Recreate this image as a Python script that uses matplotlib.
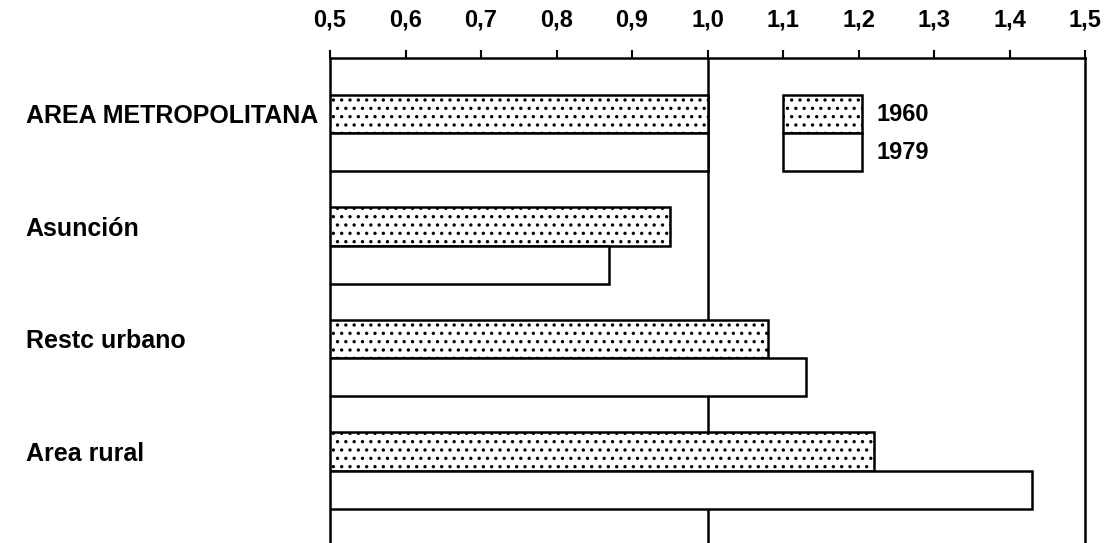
import numpy as np
import matplotlib
matplotlib.use("Agg")
import matplotlib.pyplot as plt
import matplotlib.patches as mpatches

plt.rcParams['font.family'] = ['Liberation Sans', 'DejaVu Sans']
plt.rcParams['hatch.linewidth'] = 1.2

# datos
categorias = ["AREA METROPOLITANA", "Asunción", "Restc urbano", "Area rural"]
valores_1960 = [1.0, 0.95, 1.08, 1.22]
valores_1979 = [1.0, 0.87, 1.13, 1.43]
anios = ["1960", "1979"]
ticks_x = [0.5, 0.6, 0.7, 0.8, 0.9, 1.0, 1.1, 1.2, 1.3, 1.4, 1.5]
etiquetas_x = ["0,5", "0,6", "0,7", "0,8", "0,9", "1,0", "1,1", "1,2", "1,3", "1,4", "1,5"]

base = 0.5
alto = 0.34
lw = 1.8

fig = plt.figure(figsize=(11.09, 5.43), dpi=100)
ax = fig.add_axes([330 / 1109, 0, 755 / 1109, (543 - 58) / 543])

y = np.arange(len(categorias))
largo_60 = np.array(valores_1960) - base
largo_79 = np.array(valores_1979) - base

ax.axvline(1.0, color="black", lw=lw, zorder=1)

ax.barh(y - alto / 2, largo_60, height=alto, left=base, color="white",
        edgecolor="black", hatch="..", linewidth=lw, zorder=3)
ax.barh(y + alto / 2, largo_79, height=alto, left=base, color="white",
        edgecolor="black", linewidth=lw, zorder=3)

ax.set_xlim(ticks_x[0], ticks_x[-1])
ax.set_ylim(3.644, -0.667)

ax.xaxis.tick_top()
ax.set_xticks(ticks_x)
ax.set_xticklabels(etiquetas_x, fontsize=17, fontweight="bold")
ax.tick_params(axis="x", direction="out", length=6, width=1.5, pad=13)

# etiquetas alineadas a la izquierda, como en el original
ax.set_yticks(y - alto / 2)
ax.set_yticklabels(categorias, fontsize=18, fontweight="bold", ha="left")
ax.tick_params(axis="y", length=0, pad=219)

for lado in ["top", "left", "right"]:
    ax.spines[lado].set_linewidth(lw)
ax.spines["bottom"].set_visible(False)

manijas = [mpatches.Patch(facecolor="white", edgecolor="black", hatch="..", linewidth=lw),
           mpatches.Patch(facecolor="white", edgecolor="black", linewidth=lw)]
ax.legend(manijas, anios, loc="upper left", bbox_to_anchor=(1.1, -alto),
          bbox_transform=ax.transData, frameon=False, borderpad=0, borderaxespad=0,
          labelspacing=0, handlelength=3.35, handleheight=2.1, handletextpad=0.6,
          prop={"size": 17, "weight": "bold"})

fig.savefig("out.png", dpi=100)
